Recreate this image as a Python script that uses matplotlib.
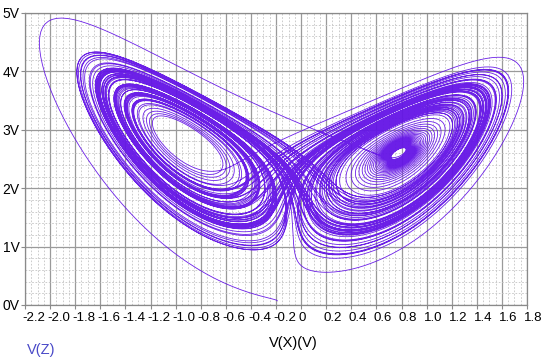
import numpy as np
import matplotlib
matplotlib.use("Agg")
import matplotlib.pyplot as plt
import matplotlib.transforms as mtransforms
from matplotlib.ticker import MultipleLocator

plt.rcParams['font.family'] = ['Liberation Sans Narrow', 'Liberation Sans', 'DejaVu Sans']

# Lorenz circuit: model parameters and state initial condition
sigma = 10.0
rho = 28.0
beta = 8.0 / 3.0
state0 = [-1.2, -1.0, -1.2]
t_end = 110.0
dt = 0.004

# node voltage scaling (V per state unit) and offsets
kx, x_off = 0.1, -0.07
kz, z_off, kxz = 0.093, 0.17, -0.01

x_ticks = [-2.2, -2.0, -1.8, -1.6, -1.4, -1.2, -1.0, -0.8, -0.6, -0.4, -0.2,
           0.0, 0.2, 0.4, 0.6, 0.8, 1.0, 1.2, 1.4, 1.6, 1.8]
x_labels = ["-2.2", "-2.0", "-1.8", "-1.6", "-1.4", "-1.2", "-1.0", "-0.8",
            "-0.6", "-0.4", "-0.2", "0", "0.2", "0.4", "0.6", "0.8", "1.0",
            "1.2", "1.4", "1.6", "1.8"]
y_ticks = [0, 1, 2, 3, 4, 5]
y_labels = ["0V", "1V", "2V", "3V", "4V", "5V"]


def lorenz(s):
    x, y, z = s
    return np.array([sigma * (y - x), x * (rho - z) - y, x * y - beta * z])


n = int(t_end / dt)
traj = np.empty((n, 3))
s = np.array(state0, dtype=float)
for i in range(n):
    traj[i] = s
    k1 = lorenz(s)
    k2 = lorenz(s + 0.5 * dt * k1)
    k3 = lorenz(s + 0.5 * dt * k2)
    k4 = lorenz(s + dt * k3)
    s = s + dt / 6.0 * (k1 + 2 * k2 + 2 * k3 + k4)

vx = kx * traj[:, 0] + x_off
vz = kz * traj[:, 2] + z_off + kxz * traj[:, 0]

fig = plt.figure(figsize=(5.41, 3.62), dpi=100)
ax = fig.add_axes([25 / 541, 57 / 362, 502 / 541, 292 / 362])

ax.plot(vx, vz, color='#6414e6', lw=0.6, alpha=0.95)

ax.set_xlim(-2.2, 1.8)
ax.set_ylim(0, 5)
ax.set_xticks(x_ticks)
ax.set_xticklabels(x_labels, ha='left')
ax.set_yticks(y_ticks)
ax.set_yticklabels(y_labels)
ax.xaxis.set_minor_locator(MultipleLocator(0.05))
ax.yaxis.set_minor_locator(MultipleLocator(0.2))

ax.grid(True, which='major', color='#9a9a9a', lw=0.9, ls='-')
ax.grid(True, which='minor', color='#c4c4c4', lw=0.6, ls=(0, (2, 2)))
ax.set_axisbelow(True)

for sp in ax.spines.values():
    sp.set_color('#8a8a8a')
    sp.set_linewidth(0.9)

ax.tick_params(axis='both', which='major', length=3, color='#8a8a8a',
               labelsize=10, pad=2)
ax.tick_params(axis='x', which='major', labelsize=9.5)
ax.tick_params(axis='both', which='minor', length=0)
ax.tick_params(axis='y', pad=1)

shift = mtransforms.ScaledTranslation(-3 / 100, 0, fig.dpi_scale_trans)
for lab in ax.get_xticklabels():
    lab.set_transform(lab.get_transform() + shift)

fig.text(27 / 541, 1 - 350 / 362, "V(Z)", color='#4a4ac8', fontsize=10.5,
         ha='left', va='center')
fig.text(293 / 541, 1 - 343 / 362, "V(X)(V)", color='black', fontsize=10.5,
         ha='center', va='center')

fig.savefig("out.png", dpi=100)
